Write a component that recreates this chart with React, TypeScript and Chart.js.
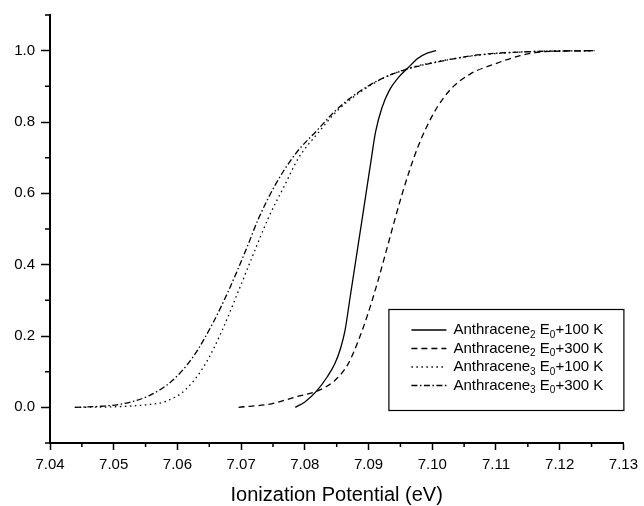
import { useEffect, useRef } from "react";
import { Chart, registerables } from "chart.js";

Chart.register(...registerables);

const FONT = "'Liberation Sans', Arial, sans-serif";

// Tick values
const xTicks = [7.04, 7.05, 7.06, 7.07, 7.08, 7.09, 7.1, 7.11, 7.12, 7.13];
const xMinor = [7.045, 7.055, 7.065, 7.075, 7.085, 7.095, 7.105, 7.115, 7.125];
const yTicks = [0, 0.2, 0.4, 0.6, 0.8, 1.0];
const yMinor = [-0.1, 0.1, 0.3, 0.5, 0.7, 0.9, 1.1];

// Anthracene2 E0+100 K (solid)
const a2_100_x = [7.0785, 7.08, 7.0819, 7.0835, 7.0847, 7.0856, 7.0863, 7.0871, 7.0879, 7.0887, 7.0895, 7.0903, 7.0911, 7.0921, 7.0933, 7.0947, 7.0962, 7.0977, 7.0992, 7.1006];
const a2_100_y = [0, 0.015, 0.047, 0.085, 0.122, 0.165, 0.215, 0.308, 0.401, 0.494, 0.587, 0.681, 0.772, 0.84, 0.89, 0.925, 0.952, 0.978, 0.993, 1.0];

// Anthracene2 E0+300 K (dashed)
const a2_300_x = [7.0696, 7.0748, 7.0785, 7.0821, 7.0847, 7.0868, 7.0884, 7.0899, 7.0914, 7.0928, 7.0941, 7.0953, 7.0965, 7.0977, 7.099, 7.1008, 7.1029, 7.106, 7.1097, 7.1138, 7.1175, 7.1255];
const a2_300_y = [0, 0.01, 0.029, 0.047, 0.075, 0.122, 0.187, 0.262, 0.35, 0.44, 0.525, 0.6, 0.668, 0.728, 0.782, 0.842, 0.892, 0.935, 0.962, 0.986, 0.997, 1.0];

// Anthracene3 E0+100 K (dotted)
const a3_100_x = [7.0439, 7.049, 7.052, 7.055, 7.0582, 7.0613, 7.0644, 7.067, 7.0696, 7.0717, 7.0743, 7.0769, 7.079, 7.0821, 7.085, 7.088, 7.092, 7.0962, 7.1019, 7.1071, 7.1149, 7.1253];
const a3_100_y = [0, 0.001, 0.003, 0.007, 0.017, 0.05, 0.122, 0.215, 0.327, 0.42, 0.532, 0.625, 0.699, 0.77, 0.83, 0.875, 0.92, 0.95, 0.973, 0.987, 0.997, 1.0];

// Anthracene3 E0+300 K (dash-dot)
const a3_300_x = [7.0439, 7.048, 7.0514, 7.0556, 7.0592, 7.0624, 7.0655, 7.0681, 7.0707, 7.0728, 7.0754, 7.0785, 7.0821, 7.0847, 7.0878, 7.092, 7.0962, 7.1019, 7.1071, 7.1149, 7.1253];
const a3_300_y = [0, 0.003, 0.01, 0.033, 0.075, 0.14, 0.234, 0.33, 0.439, 0.532, 0.625, 0.71, 0.78, 0.83, 0.876, 0.921, 0.949, 0.972, 0.988, 0.997, 1.0];

// Legend text parts
const legendBase = ["Anthracene", "Anthracene", "Anthracene", "Anthracene"];
const legendSubA = ["2", "2", "3", "3"];
const legendMid = [" E", " E", " E", " E"];
const legendSubB = ["0", "0", "0", "0"];
const legendTail = ["+100 K", "+300 K", "+100 K", "+300 K"];

const dashes: number[][] = [[], [6, 4], [1.5, 3.5], [6, 2.5, 1.5, 2.5]];

const zip = (xs: number[], ys: number[]) => xs.map((x, i) => ({ x, y: ys[i] }));

const minorTicksPlugin = {
  id: "minorTicks",
  afterDraw(chart: any) {
    const { ctx, scales } = chart;
    const xs = scales.x;
    const ys = scales.y;
    ctx.save();
    ctx.strokeStyle = "#000";
    ctx.lineWidth = 1.5;
    ctx.beginPath();
    xMinor.forEach((v) => {
      const px = xs.getPixelForValue(v);
      ctx.moveTo(px, xs.top);
      ctx.lineTo(px, xs.top + 4);
    });
    yMinor.forEach((v) => {
      const py = ys.getPixelForValue(v);
      ctx.moveTo(ys.right, py);
      ctx.lineTo(ys.right - 5, py);
    });
    ctx.stroke();
    ctx.restore();
  },
};

const boxLegendPlugin = {
  id: "boxLegend",
  afterDraw(chart: any) {
    const { ctx, chartArea } = chart;
    const w = 235;
    const h = 101;
    const right = chartArea.right;
    const left = right - w;
    const top = 309;
    ctx.save();
    ctx.fillStyle = "#fff";
    ctx.fillRect(left, top, w, h);
    ctx.strokeStyle = "#000";
    ctx.lineWidth = 1.2;
    ctx.setLineDash([]);
    ctx.strokeRect(left + 0.5, top + 0.5, w, h);
    chart.data.datasets.forEach((ds: any, i: number) => {
      const cy = top + 21 + i * 18.5;
      ctx.setLineDash(ds.borderDash || []);
      ctx.lineWidth = 1.3;
      ctx.beginPath();
      ctx.moveTo(left + 23, cy);
      ctx.lineTo(left + 58, cy);
      ctx.stroke();
      ctx.setLineDash([]);
      ctx.fillStyle = "#000";
      ctx.textBaseline = "middle";
      ctx.textAlign = "left";
      let tx = left + 65;
      const big = `15px ${FONT}`;
      const small = `10px ${FONT}`;
      const parts: [string, boolean][] = [
        [legendBase[i], false],
        [legendSubA[i], true],
        [legendMid[i], false],
        [legendSubB[i], true],
        [legendTail[i], false],
      ];
      parts.forEach(([t, sub]) => {
        ctx.font = sub ? small : big;
        ctx.fillText(t, tx, sub ? cy + 5 : cy);
        tx += ctx.measureText(t).width;
      });
    });
    ctx.restore();
  },
};

export default function App() {
  const ref = useRef<HTMLCanvasElement | null>(null);
  useEffect(() => {
    if (!ref.current) return;
    const mk = (label: string, xs: number[], ys: number[], dash: number[]) => ({
      label,
      data: zip(xs, ys),
      borderColor: "#000",
      backgroundColor: "#000",
      borderWidth: 1.3,
      borderDash: dash,
      pointRadius: 0,
      fill: false,
      cubicInterpolationMode: "monotone" as const,
    });
    const chart = new Chart(ref.current, {
      type: "line",
      data: {
        datasets: [
          mk("Anthracene2 E0+100 K", a2_100_x, a2_100_y, dashes[0]),
          mk("Anthracene2 E0+300 K", a2_300_x, a2_300_y, dashes[1]),
          mk("Anthracene3 E0+100 K", a3_100_x, a3_100_y, dashes[2]),
          mk("Anthracene3 E0+300 K", a3_300_x, a3_300_y, dashes[3]),
        ],
      },
      options: {
        animation: false,
        responsive: false,
        layout: { padding: { top: 14, right: 17, left: 0, bottom: 0 } },
        plugins: { legend: { display: false }, tooltip: { enabled: false } },
        scales: {
          x: {
            type: "linear",
            min: 7.04,
            max: 7.13,
            afterBuildTicks: (s: any) => {
              s.ticks = xTicks.map((v) => ({ value: v }));
            },
            afterFit: (s: any) => {
              s.height = 63;
            },
            ticks: {
              callback: (v: any) => Number(v).toFixed(2),
              font: { family: FONT, size: 15 },
              color: "#000",
              padding: 6,
              maxRotation: 0,
              autoSkip: false,
            },
            grid: { drawOnChartArea: false, tickLength: 7, tickWidth: 1.5, tickColor: "#000" },
            border: { color: "#000", width: 2 },
            title: {
              display: true,
              text: "Ionization Potential (eV)",
              color: "#000",
              font: { family: FONT, size: 20, lineHeight: 1 },
              padding: { top: 0, bottom: 1 },
            },
          },
          y: {
            type: "linear",
            min: -0.1,
            max: 1.1,
            afterBuildTicks: (s: any) => {
              s.ticks = yTicks.map((v) => ({ value: v }));
            },
            afterFit: (s: any) => {
              s.width = 50;
            },
            ticks: {
              callback: (v: any) => Number(v).toFixed(1),
              font: { family: FONT, size: 15 },
              color: "#000",
              padding: 6,
            },
            grid: { drawOnChartArea: false, tickLength: 9, tickWidth: 1.5, tickColor: "#000" },
            border: { color: "#000", width: 2 },
          },
        },
      },
      plugins: [minorTicksPlugin, boxLegendPlugin],
    });
    return () => chart.destroy();
  }, []);
  return (
    <div style={{ position: "absolute", left: 0, top: 0, width: 644, height: 506, background: "#fff" }}>
      <canvas ref={ref} width={644} height={506} style={{ width: 644, height: 506 }} />
    </div>
  );
}
